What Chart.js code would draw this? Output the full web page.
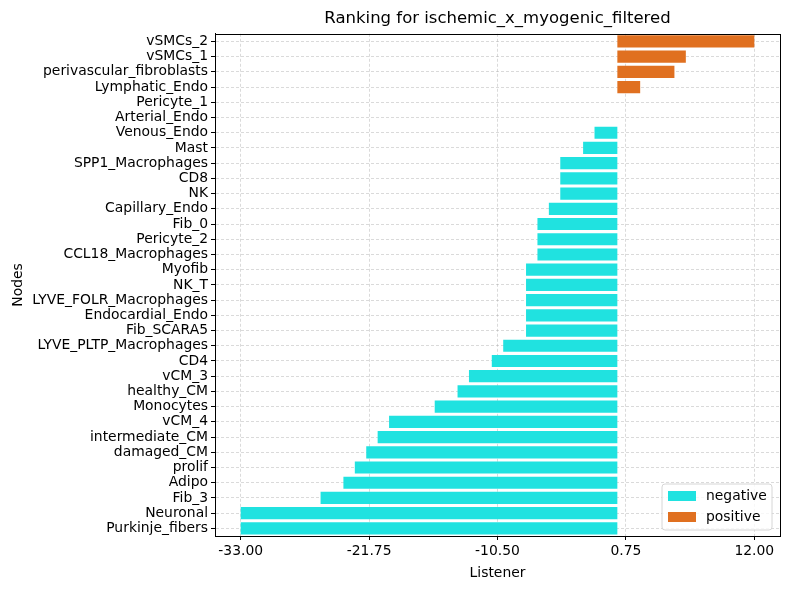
<!DOCTYPE html>
<html>
<head>
<meta charset="utf-8">
<script src="https://cdn.jsdelivr.net/npm/chart.js@4"></script>
<style>
  html, body { margin: 0; padding: 0; background: #fff; }
  #wrap { width: 790px; height: 590px; }
</style>
</head>
<body>
<div id="wrap"><canvas id="rankChart" width="790" height="590"></canvas></div>
<script>
// nodes, top to bottom
const nodes = [
  'vSMCs_2', 'vSMCs_1', 'perivascular_fibroblasts', 'Lymphatic_Endo', 'Pericyte_1',
  'Arterial_Endo', 'Venous_Endo', 'Mast', 'SPP1_Macrophages', 'CD8', 'NK',
  'Capillary_Endo', 'Fib_0', 'Pericyte_2', 'CCL18_Macrophages', 'Myofib', 'NK_T',
  'LYVE_FOLR_Macrophages', 'Endocardial_Endo', 'Fib_SCARA5', 'LYVE_PLTP_Macrophages',
  'CD4', 'vCM_3', 'healthy_CM', 'Monocytes', 'vCM_4', 'intermediate_CM',
  'damaged_CM', 'prolif', 'Adipo', 'Fib_3', 'Neuronal', 'Purkinje_fibers'
];
const scores = [
  12, 6, 5, 2, 0,
  0, -2, -3, -5, -5, -5,
  -6, -7, -7, -7, -8, -8,
  -8, -8, -8, -10,
  -11, -13, -14, -16, -20, -21,
  -22, -23, -24, -26, -33, -33
];
const xTicks = [-33.0, -21.75, -10.5, 0.75, 12.0];

const negColor = '#20e2e0';
const posColor = '#e07020';

const negValues = scores.map(v => (v < 0 ? v : null));
const posValues = scores.map(v => (v > 0 ? v : null));

const FONT = 'DejaVu Sans';
const FS = 13.9;

// frame around the plot + legend in the lower right corner
const framePlugin = {
  id: 'frame',
  afterDraw(chart) {
    const { ctx, chartArea: a } = chart;
    ctx.save();
    ctx.strokeStyle = '#000';
    ctx.lineWidth = 1;
    ctx.strokeRect(Math.round(a.left) + 0.5, Math.round(a.top) + 0.5,
      Math.round(a.right - a.left), Math.round(a.bottom - a.top));

    // legend box
    const w = 110, h = 46;
    const x = a.right - w - 8, y = a.bottom - h - 6;
    ctx.beginPath();
    ctx.roundRect(x, y, w, h, 3);
    ctx.fillStyle = 'rgba(255,255,255,0.8)';
    ctx.fill();
    ctx.strokeStyle = '#d6d6d6';
    ctx.stroke();

    const items = [['negative', negColor], ['positive', posColor]];
    ctx.font = FS + 'px ' + FONT;
    ctx.textBaseline = 'middle';
    items.forEach((it, i) => {
      const cy = y + 12 + i * 21;
      ctx.fillStyle = it[1];
      ctx.fillRect(x + 6, cy - 5, 28, 10);
      ctx.fillStyle = '#000';
      ctx.fillText(it[0], x + 44, cy);
    });
    ctx.restore();
  }
};

const gridStyle = {
  color: 'rgba(150,150,150,0.6)',
  lineWidth: 0.6,
  tickColor: '#000',
  tickLength: 4,
  tickWidth: 1
};
const borderStyle = { display: true, color: '#000', width: 1, dash: [3, 2] };

new Chart(document.getElementById('rankChart'), {
  type: 'bar',
  data: {
    labels: nodes,
    datasets: [
      { label: 'negative', data: negValues, backgroundColor: negColor, grouped: false,
        barPercentage: 0.8, categoryPercentage: 1.0 },
      { label: 'positive', data: posValues, backgroundColor: posColor, grouped: false,
        barPercentage: 0.8, categoryPercentage: 1.0 }
    ]
  },
  options: {
    indexAxis: 'y',
    responsive: false,
    animation: false,
    layout: { padding: { left: 0, right: 10, top: 0, bottom: 8 } },
    plugins: {
      legend: { display: false },
      tooltip: { enabled: false },
      title: {
        display: true,
        fullSize: false,
        text: 'Ranking for ischemic_x_myogenic_filtered',
        color: '#000',
        font: { family: FONT, size: 16.5, weight: 'normal' },
        padding: { top: 9, bottom: 5 }
      }
    },
    scales: {
      x: {
        min: -35.25,
        max: 14.25,
        grid: gridStyle,
        border: borderStyle,
        afterBuildTicks(scale) {
          scale.ticks = xTicks.map(v => ({ value: v }));
        },
        afterFit(scale) { scale.height = 46; },
        ticks: {
          color: '#000',
          padding: 3,
          font: { family: FONT, size: FS },
          callback: v => Number(v).toFixed(2)
        },
        title: {
          display: true,
          text: 'Listener',
          color: '#000',
          padding: { top: 4, bottom: 0 },
          font: { family: FONT, size: FS }
        }
      },
      y: {
        offset: true,
        grid: Object.assign({}, gridStyle, { offset: false }),
        border: borderStyle,
        afterFit(scale) { scale.width = 215; },
        ticks: {
          color: '#000',
          padding: 3,
          autoSkip: false,
          font: { family: FONT, size: FS }
        },
        title: {
          display: true,
          text: 'Nodes',
          color: '#000',
          padding: { top: 10, bottom: 4 },
          font: { family: FONT, size: FS }
        }
      }
    }
  },
  plugins: [framePlugin]
});
</script>
</body>
</html>
